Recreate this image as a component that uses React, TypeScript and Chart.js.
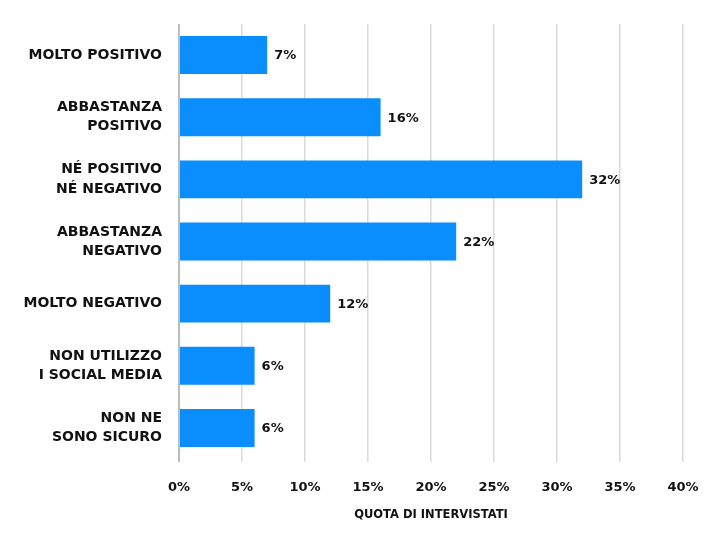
import React, { useEffect, useRef } from "react";
import { Chart, registerables } from "chart.js";

Chart.register(...registerables);

const categories: (string | string[])[] = [
  "MOLTO POSITIVO",
  ["ABBASTANZA", "POSITIVO"],
  ["NÉ POSITIVO", "NÉ NEGATIVO"],
  ["ABBASTANZA", "NEGATIVO"],
  "MOLTO NEGATIVO",
  ["NON UTILIZZO", "I SOCIAL MEDIA"],
  ["NON NE", "SONO SICURO"],
];
const values = [7, 16, 32, 22, 12, 6, 6];
const xTicks = [0, 5, 10, 15, 20, 25, 30, 35, 40];
const axisTitle = "QUOTA DI INTERVISTATI";

const FONT = "'DejaVu Sans', Inter, sans-serif";

const valueLabels = {
  id: "valueLabels",
  afterDatasetsDraw(chart: any) {
    const ctx = chart.ctx;
    const meta = chart.getDatasetMeta(0);
    ctx.save();
    ctx.font = `bold 13px ${FONT}`;
    ctx.fillStyle = "#111";
    ctx.textAlign = "left";
    ctx.textBaseline = "middle";
    meta.data.forEach((el: any, i: number) => {
      ctx.fillText(values[i] + "%", el.x + 7, el.y + 1);
    });
    ctx.restore();
  },
};

export default function App() {
  const ref = useRef<HTMLCanvasElement | null>(null);
  useEffect(() => {
    document.body.style.margin = "0";
    const chart = new Chart(ref.current as HTMLCanvasElement, {
      type: "bar",
      data: {
        labels: categories as any,
        datasets: [
          {
            data: values,
            backgroundColor: "#0a8dfd",
            borderWidth: 0,
            barPercentage: 0.61,
            categoryPercentage: 1,
          },
        ],
      },
      options: {
        indexAxis: "y",
        animation: false,
        responsive: false,
        maintainAspectRatio: false,
        layout: { padding: { top: 24, right: 29, left: 0, bottom: 0 } },
        plugins: { legend: { display: false }, tooltip: { enabled: false } },
        scales: {
          x: {
            min: 0,
            max: 40,
            afterBuildTicks: (s: any) => {
              s.ticks = xTicks.map((v) => ({ value: v }));
            },
            afterFit: (s: any) => {
              s.height = 74;
              s.paddingLeft = 0;
              s.paddingRight = 0;
            },
            border: { display: false },
            grid: {
              color: (c: any) => (c.tick && c.tick.value === 0 ? "#bdbdbd" : "#d9d9d9"),
              lineWidth: (c: any) => (c.tick && c.tick.value === 0 ? 2 : 1.5),
              drawTicks: true,
              tickLength: 3,
            },
            ticks: {
              padding: 18,
              color: "#111",
              font: { family: FONT, size: 13, weight: "bold" as any },
              callback: (v: any) => v + "%",
            },
            title: {
              display: true,
              text: axisTitle,
              color: "#111",
              font: { family: FONT, size: 11.5, weight: "bold" as any },
              padding: { top: 0, bottom: 11 },
            },
          },
          y: {
            afterFit: (s: any) => {
              s.width = 179;
              s.paddingTop = 0;
              s.paddingBottom = 0;
            },
            border: { display: false },
            grid: { display: false, drawTicks: false },
            ticks: {
              padding: 17,
              color: "#111",
              font: { family: FONT, size: 14, weight: "bold" as any, lineHeight: 1.36 },
            },
          },
        },
      },
      plugins: [valueLabels],
    });
    return () => chart.destroy();
  }, []);
  return <canvas ref={ref} width={712} height={533} style={{ display: "block" }} />;
}
